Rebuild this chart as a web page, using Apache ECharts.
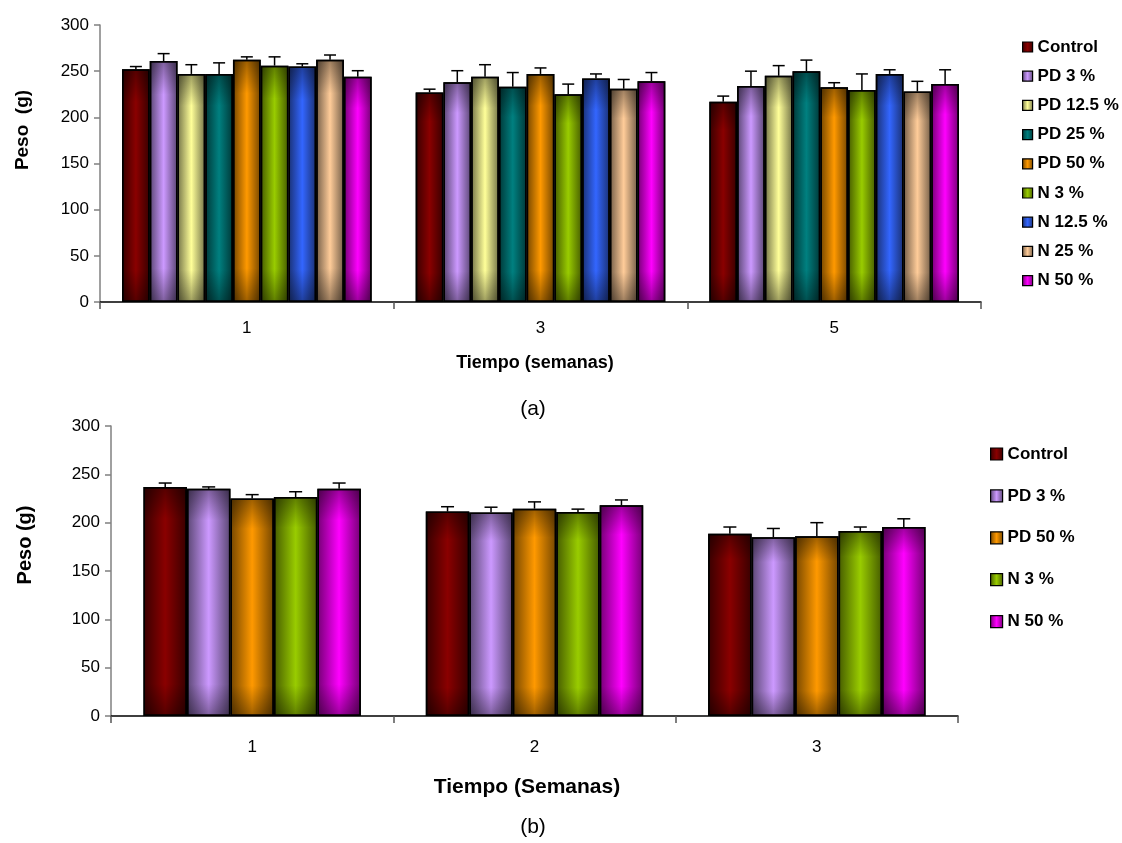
<!DOCTYPE html>
<html>
<head>
<meta charset="utf-8">
<title>Peso</title>
<script src="https://cdn.jsdelivr.net/npm/echarts@6/dist/echarts.min.js"></script>
<style>
  html, body { margin: 0; padding: 0; background: #fff; }
  #chart { width: 1122px; height: 843px; }
</style>
</head>
<body>
<div id="chart"></div>
<script>
// ---- Panel (a): weight over weeks 1, 3, 5 for nine groups ----
const weeksA = ['1', '3', '5'];
const groupsA = ['Control', 'PD 3 %', 'PD 12.5 %', 'PD 25 %', 'PD 50 %', 'N 3 %', 'N 12.5 %', 'N 25 %', 'N 50 %'];
const controlA = [252, 227, 217];
const pd3A = [261, 238, 234];
const pd125A = [247, 244, 245];
const pd25A = [247, 233, 250];
const pd50A = [262.5, 247, 232.5];
const n3A = [256, 225, 229.5];
const n125A = [255, 242, 247];
const n25A = [262.5, 231, 228];
const n50A = [244, 239, 236];
const controlErrA = [3, 3.5, 6];
const pd3ErrA = [8, 12.5, 16];
const pd125ErrA = [10, 13, 11];
const pd25ErrA = [12, 15.5, 12];
const pd50ErrA = [3, 6.5, 5];
const n3ErrA = [9.5, 11, 17.5];
const n125ErrA = [3, 5, 4.5];
const n25ErrA = [5, 10, 11];
const n50ErrA = [6.5, 9.5, 15.5];

// ---- Panel (b): weight over weeks 1, 2, 3 for five groups ----
const weeksB = ['1', '2', '3'];
const groupsB = ['Control', 'PD 3 %', 'PD 50 %', 'N 3 %', 'N 50 %'];
const controlB = [237, 211.5, 188.5];
const pd3B = [235, 210.5, 185];
const pd50B = [225, 214.5, 186];
const n3B = [226.5, 211, 191.5];
const n50B = [235, 218, 195.5];
const controlErrB = [4, 5, 7];
const pd3ErrB = [2, 5.5, 9];
const pd50ErrB = [4, 7, 14];
const n3ErrB = [5.5, 3, 4];
const n50ErrB = [6, 5.5, 8.5];

const yTicks = [0, 50, 100, 150, 200, 250, 300];

// Centre / edge colours of each group's shaded bar
const palette = {
  'Control':   ['#8a0000', '#380000'],
  'PD 3 %':    ['#cc99ff', '#5a4673'],
  'PD 12.5 %': ['#ffff99', '#747448'],
  'PD 25 %':   ['#008080', '#003838'],
  'PD 50 %':   ['#ff9900', '#744600'],
  'N 3 %':     ['#99cc00', '#465c00'],
  'N 12.5 %':  ['#3366ff', '#1a3174'],
  'N 25 %':    ['#ffcc99', '#745e48'],
  'N 50 %':    ['#ff00ff', '#740074']
};

function shade(name) {
  const [c, e] = palette[name];
  return new echarts.graphic.LinearGradient(0, 0, 1, 0, [
    { offset: 0, color: e },
    { offset: 0.5, color: c },
    { offset: 1, color: e }
  ]);
}

// Darkening toward the top and bottom ends of every bar
const endShade = new echarts.graphic.LinearGradient(0, 0, 0, 1, [
  { offset: 0, color: 'rgba(0,0,0,0.38)' },
  { offset: 0.14, color: 'rgba(0,0,0,0)' },
  { offset: 0.86, color: 'rgba(0,0,0,0)' },
  { offset: 1, color: 'rgba(0,0,0,0.38)' }
]);

const FONT = '"Liberation Sans", Arial, sans-serif';

const valuesA = [controlA, pd3A, pd125A, pd25A, pd50A, n3A, n125A, n25A, n50A];
const errorsA = [controlErrA, pd3ErrA, pd125ErrA, pd25ErrA, pd50ErrA, n3ErrA, n125ErrA, n25ErrA, n50ErrA];
const valuesB = [controlB, pd3B, pd50B, n3B, n50B];
const errorsB = [controlErrB, pd3ErrB, pd50ErrB, n3ErrB, n50ErrB];

const GAP_A = 0.15;
const GAP_B = 0.23;

function barSeries(names, values, xIdx, yIdx, gap) {
  return names.map((name, i) => ({
    type: 'bar',
    name: name,
    xAxisIndex: xIdx,
    yAxisIndex: yIdx,
    data: values[i],
    barGap: '0%',
    barCategoryGap: (gap * 100) + '%',
    itemStyle: { color: shade(name), borderColor: '#000', borderWidth: 1.5 },
    emphasis: { disabled: true }
  }));
}

// Same bars again on a twin category axis, carrying only the end shading
function shadeSeries(values, xIdx, yIdx, gap) {
  return values.map((vals) => ({
    type: 'bar',
    xAxisIndex: xIdx,
    yAxisIndex: yIdx,
    data: vals,
    barGap: '0%',
    barCategoryGap: (gap * 100) + '%',
    silent: true,
    z: 3,
    itemStyle: { color: endShade, borderColor: '#000', borderWidth: 1.5 },
    emphasis: { disabled: true }
  }));
}

// Upper error whiskers placed on the matching bar slot of each category
function errorSeries(values, errors, xIdx, yIdx, gap, capHalf) {
  const n = values.length;
  const data = [];
  values.forEach((vals, s) => vals.forEach((v, c) => data.push([c, s, v, errors[s][c]])));
  return {
    type: 'custom',
    xAxisIndex: xIdx,
    yAxisIndex: yIdx,
    z: 5,
    silent: true,
    encode: { x: 0, y: 2 },
    data: data,
    renderItem: function (params, api) {
      const c = api.value(0), s = api.value(1), v = api.value(2), e = api.value(3);
      const band = api.size([1, 0])[0];
      const used = band * (1 - gap);
      const bw = used / n;
      const x = api.coord([c, 0])[0] - used / 2 + bw * (s + 0.5);
      const y0 = api.coord([c, v])[1];
      const y1 = api.coord([c, v + e])[1];
      const st = { stroke: '#000', lineWidth: 1.5 };
      return {
        type: 'group',
        children: [
          { type: 'line', shape: { x1: x, y1: y0, x2: x, y2: y1 }, style: st },
          { type: 'line', shape: { x1: x - capHalf, y1: y1, x2: x + capHalf, y2: y1 }, style: st }
        ]
      };
    }
  };
}

function yAxisDef(idx) {
  return {
    type: 'value', gridIndex: idx, min: yTicks[0], max: yTicks[yTicks.length - 1], interval: 50,
    splitLine: { show: false },
    axisLine: { show: true, lineStyle: { color: '#808080', width: 1.5 } },
    axisTick: { show: true, inside: false, length: 6, lineStyle: { color: '#808080', width: 1.5 } },
    axisLabel: { color: '#000', fontSize: 17, fontFamily: FONT, margin: 11 }
  };
}

function xAxisDef(idx, cats, margin) {
  return {
    type: 'category', gridIndex: idx, data: cats,
    axisLine: { show: true, lineStyle: { color: '#000', width: 1.5 } },
    axisTick: { show: true, length: 7, lineStyle: { color: '#555', width: 1.5 } },
    axisLabel: { color: '#000', fontSize: 17, fontFamily: FONT, margin: margin }
  };
}

// Hidden twin axis so the shading bars land exactly on the coloured bars
function twinAxisDef(idx, cats) {
  return { type: 'category', gridIndex: idx, data: cats, show: false };
}

function legendDef(names, top, left, icon, gap) {
  return {
    data: names,
    orient: 'vertical',
    left: left, top: top,
    itemWidth: icon, itemHeight: icon,
    itemGap: gap,
    selectedMode: false,
    icon: 'rect',
    itemStyle: { borderColor: '#000', borderWidth: 1.2 },
    textStyle: { color: '#000', fontSize: 17, fontWeight: 'bold', fontFamily: FONT, lineHeight: 20 }
  };
}

function label(text, x, y, size, bold, rotate) {
  return {
    type: 'text', x: x, y: y, rotation: rotate ? Math.PI / 2 : 0,
    style: {
      text: text, fill: '#000', font: (bold ? 'bold ' : '') + size + 'px ' + FONT,
      align: 'center', verticalAlign: 'middle'
    }
  };
}

const chart = echarts.init(document.getElementById('chart'), null, { renderer: 'canvas' });

chart.setOption({
  animation: false,
  backgroundColor: '#fff',
  grid: [
    { left: 100, top: 25, width: 881, height: 277 },
    { left: 111, top: 426, width: 847, height: 290 }
  ],
  xAxis: [
    xAxisDef(0, weeksA, 18), xAxisDef(1, weeksB, 23),
    twinAxisDef(0, weeksA), twinAxisDef(1, weeksB)
  ],
  yAxis: [yAxisDef(0), yAxisDef(1)],
  legend: [
    legendDef(groupsA, 32, 1017, 10, 9.2),
    legendDef(groupsB, 439, 985, 12, 21.9)
  ],
  graphic: [
    label('Peso  (g)', 23, 130, 19, true, true),
    label('Tiempo (semanas)', 535, 363, 18, true, false),
    label('(a)', 533, 409, 21, false, false),
    label('Peso (g)', 25, 545, 20, true, true),
    label('Tiempo (Semanas)', 527, 787, 21, true, false),
    label('(b)', 533, 827, 21, false, false)
  ],
  series: [
    ...barSeries(groupsA, valuesA, 0, 0, GAP_A),
    ...shadeSeries(valuesA, 2, 0, GAP_A),
    errorSeries(valuesA, errorsA, 0, 0, GAP_A, 6),
    ...barSeries(groupsB, valuesB, 1, 1, GAP_B),
    ...shadeSeries(valuesB, 3, 1, GAP_B),
    errorSeries(valuesB, errorsB, 1, 1, GAP_B, 6.5)
  ]
});
</script>
</body>
</html>
